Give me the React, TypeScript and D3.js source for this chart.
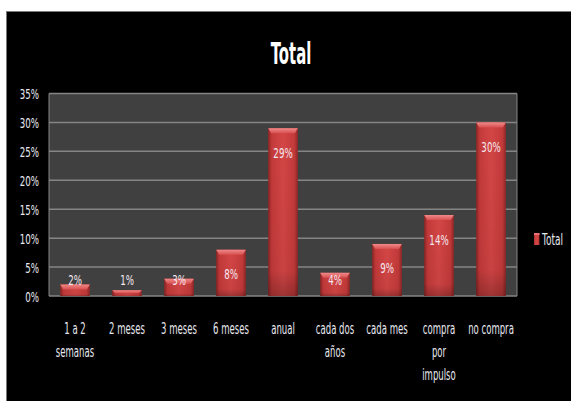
import React from "react";
import * as d3 from "d3";

const categories: string[][] = [
  ["1 a 2", "semanas"],
  ["2 meses"],
  ["3 meses"],
  ["6 meses"],
  ["anual"],
  ["cada dos", "años"],
  ["cada mes"],
  ["compra", "por", "impulso"],
  ["no compra"],
];
const values = [2, 1, 3, 8, 29, 4, 9, 14, 30];
const yTicks = [0, 5, 10, 15, 20, 25, 30, 35];
const title = "Total";
const seriesName = "Total";

const W = 571;
const H = 401;
const FONT = "'DejaVu Sans', sans-serif";

export default function App() {
  const keys = categories.map((c) => c.join(" "));
  const x = d3.scaleBand<string>().domain(keys).range([49, 517]).paddingInner(0.43).paddingOuter(0.215);
  const y = d3.scaleLinear().domain([0, 35]).range([296, 93.5]);
  const bw = x.bandwidth();
  const zeroY = y(0);

  return (
    <svg width={W} height={H} style={{ position: "absolute", left: 0, top: 0, display: "block" }}>
      <defs>
        <linearGradient id="barH" x1="0" x2="1" y1="0" y2="0">
          <stop offset="0" stopColor="#8e2424" />
          <stop offset="0.12" stopColor="#c43a3a" />
          <stop offset="0.5" stopColor="#d44646" />
          <stop offset="0.88" stopColor="#c43a3a" />
          <stop offset="1" stopColor="#922626" />
        </linearGradient>
        <linearGradient id="barV" x1="0" x2="0" y1="0" y2="1">
          <stop offset="0" stopColor="#000" stopOpacity="0" />
          <stop offset="0.85" stopColor="#000" stopOpacity="0.05" />
          <stop offset="1" stopColor="#000" stopOpacity="0.25" />
        </linearGradient>
        <linearGradient id="bevel" x1="0" x2="0" y1="0" y2="1">
          <stop offset="0" stopColor="#f08a8a" />
          <stop offset="1" stopColor="#d85050" />
        </linearGradient>
      </defs>
      <rect x={0} y={0} width={W} height={H} fill="#ffffff" />
      <rect x={6.5} y={11.5} width={W} height={H} fill="#000" stroke="#7a7a7a" strokeWidth={1} />

      {/* title */}
      <text
        transform={`translate(291,64) scale(0.48,1)`}
        textAnchor="middle"
        fill="#ffffff"
        fontFamily={FONT}
        fontWeight="bold"
        fontSize={31}
      >
        {title}
      </text>

      {/* plot area */}
      <rect x={49} y={y(35)} width={468} height={zeroY - y(35)} fill="#404040" />
      {yTicks.map((t) => (
        <line key={t} x1={49} x2={517} y1={y(t)} y2={y(t)} stroke="#858585" strokeWidth={1.5} />
      ))}
      <line x1={49} x2={49} y1={y(35)} y2={zeroY} stroke="#858585" strokeWidth={1} />
      <line x1={517} x2={517} y1={y(35)} y2={zeroY} stroke="#858585" strokeWidth={1} />

      {yTicks.map((t) => (
        <text
          key={"l" + t}
          transform={`translate(39,${y(t) + 5.5}) scale(0.62,1)`}
          textAnchor="end"
          fill="#e8e8f0"
          fontFamily={FONT}
          fontSize={14}
        >
          {t + "%"}
        </text>
      ))}

      {/* bars */}
      {values.map((v, i) => {
        const x0 = x(keys[i])!;
        const top = y(v);
        const h = zeroY - top;
        const bev = Math.min(5, h / 2);
        return (
          <g key={"b" + i}>
            <rect x={x0} y={top} width={bw} height={h} fill="url(#barH)" />
            <rect x={x0} y={top} width={bw} height={h} fill="url(#barV)" />
            <polygon
              points={`${x0},${top} ${x0 + bw},${top} ${x0 + bw - 3},${top + bev} ${x0 + 3},${top + bev}`}
              fill="url(#bevel)"
            />
          </g>
        );
      })}

      {/* data labels */}
      {values.map((v, i) => {
        const cx = x(keys[i])! + bw / 2;
        const cy = Math.min(y(v) + 24, zeroY - 17);
        return (
          <text
            key={"d" + i}
            transform={`translate(${cx},${cy + 5.5}) scale(0.62,1)`}
            textAnchor="middle"
            fill="#f4e8f0"
            fontFamily={FONT}
            fontSize={14}
          >
            {v + "%"}
          </text>
        );
      })}

      {/* category labels */}
      {categories.map((lines, i) => {
        const cx = x(keys[i])! + bw / 2;
        return lines.map((ln, j) => (
          <text
            key={"c" + i + "-" + j}
            transform={`translate(${cx},${334 + j * 22.8}) scale(0.57,1)`}
            textAnchor="middle"
            fill="#e8e8f0"
            fontFamily={FONT}
            fontSize={15}
          >
            {ln}
          </text>
        ));
      })}

      {/* legend */}
      <rect x={534} y={233} width={5.5} height={12} fill="url(#barH)" />
      <rect x={534} y={233} width={5.5} height={2} fill="#e87070" />
      <text
        transform={`translate(542,245) scale(0.6,1)`}
        fill="#e8e8f0"
        fontFamily={FONT}
        fontSize={15}
      >
        {seriesName}
      </text>
    </svg>
  );
}
